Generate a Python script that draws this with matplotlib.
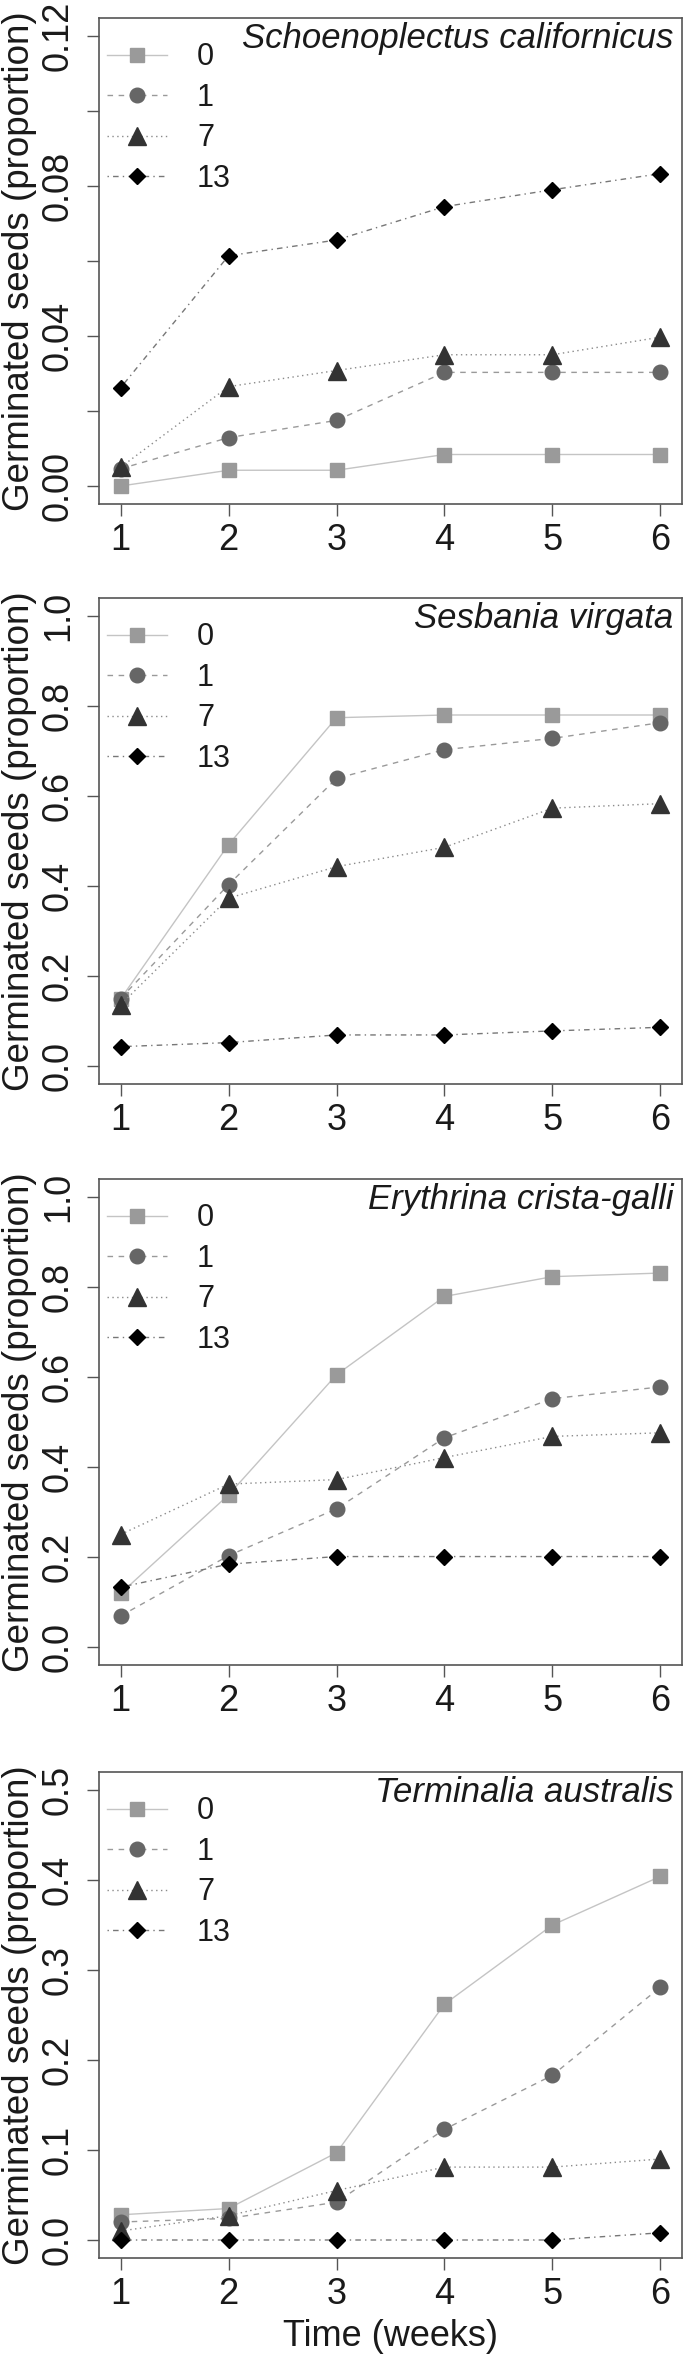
import matplotlib
matplotlib.use("Agg")
from matplotlib import pyplot as plt

plt.rcParams['font.family'] = ['Liberation Sans', 'DejaVu Sans']

weeks = [1, 2, 3, 4, 5, 6]
doses = ['0', '1', '7', '13']

species = ['Schoenoplectus californicus', 'Sesbania virgata',
           'Erythrina crista-galli', 'Terminalia australis']

sc_0 = [0.000, 0.0042, 0.0042, 0.0084, 0.0084, 0.0084]
sc_1 = [0.0046, 0.0129, 0.0175, 0.0303, 0.0303, 0.0303]
sc_7 = [0.0050, 0.0265, 0.0308, 0.0350, 0.0350, 0.0397]
sc_13 = [0.0262, 0.0614, 0.0656, 0.0745, 0.0790, 0.0833]

sv_0 = [0.149, 0.492, 0.774, 0.780, 0.780, 0.780]
sv_1 = [0.150, 0.403, 0.639, 0.703, 0.728, 0.763]
sv_7 = [0.136, 0.373, 0.443, 0.486, 0.573, 0.583]
sv_13 = [0.043, 0.052, 0.069, 0.069, 0.078, 0.086]

ec_0 = [0.119, 0.338, 0.605, 0.779, 0.823, 0.831]
ec_1 = [0.069, 0.203, 0.307, 0.465, 0.552, 0.578]
ec_7 = [0.250, 0.362, 0.372, 0.421, 0.468, 0.476]
ec_13 = [0.133, 0.184, 0.201, 0.201, 0.201, 0.201]

ta_0 = [0.028, 0.035, 0.097, 0.262, 0.350, 0.404]
ta_1 = [0.020, 0.024, 0.042, 0.123, 0.183, 0.281]
ta_7 = [0.010, 0.027, 0.055, 0.081, 0.081, 0.090]
ta_13 = [0.000, 0.000, 0.000, 0.000, 0.000, 0.008]

y_max = [0.12, 1.0, 1.0, 0.5]
y_ticks = [
    [0.00, 0.02, 0.04, 0.06, 0.08, 0.10, 0.12],
    [0.0, 0.2, 0.4, 0.6, 0.8, 1.0],
    [0.0, 0.2, 0.4, 0.6, 0.8, 1.0],
    [0.0, 0.1, 0.2, 0.3, 0.4, 0.5],
]
y_labels = [
    ['0.00', '', '0.04', '', '0.08', '', '0.12'],
    ['0.0', '0.2', '0.4', '0.6', '0.8', '1.0'],
    ['0.0', '0.2', '0.4', '0.6', '0.8', '1.0'],
    ['0.0', '0.1', '0.2', '0.3', '0.4', '0.5'],
]

panels = [[sc_0, sc_1, sc_7, sc_13], [sv_0, sv_1, sv_7, sv_13],
          [ec_0, ec_1, ec_7, ec_13], [ta_0, ta_1, ta_7, ta_13]]

# style of each dose: marker, marker colour, line colour, line style, marker size
styles = [
    ('s', '#9a9a9a', '#c4c4c4', '-', 10.5),
    ('o', '#666666', '#9a9a9a', (0, (4, 4)), 10.5),
    ('^', '#333333', '#8a8a8a', (0, (1, 2.5)), 13),
    ('D', '#000000', '#777777', (0, (1, 3, 4, 3)), 8.5),
]

W, H = 685, 2354
fig = plt.figure(figsize=(W / 100, H / 100), dpi=100)

tops = [18, 598, 1179, 1772]
left, width, height = 99, 583, 486
box_col = '#555555'
txt_col = '#1a1a1a'

for i in range(4):
    ax = fig.add_axes([left / W, 1 - (tops[i] + height) / H, width / W, height / H])
    for j in range(4):
        mk, mcol, lcol, ls, ms = styles[j]
        ax.plot(weeks, panels[i][j], color=lcol, linestyle=ls, linewidth=1.0,
                marker=mk, markersize=ms, markerfacecolor=mcol,
                markeredgecolor=mcol, label=doses[j])

    pad = 0.04 * y_max[i]
    ax.set_ylim(-pad, y_max[i] + pad)
    ax.set_xlim(0.8, 6.2)
    ax.set_xticks(weeks)
    ax.set_xticklabels([str(w) for w in weeks])
    ax.set_yticks(y_ticks[i])
    ax.set_yticklabels(y_labels[i], rotation=90, va='center', ha='right')

    ax.tick_params(axis='both', direction='out', length=8.5, width=1.0,
                   color=box_col, labelsize=26, labelcolor=txt_col)
    ax.tick_params(axis='x', pad=5)
    ax.tick_params(axis='y', pad=8)
    for s in ax.spines.values():
        s.set_color(box_col)
        s.set_linewidth(1.2)

    ax.set_ylabel('Germinated seeds (proportion)', fontsize=26.5, color=txt_col)
    ax.yaxis.set_label_coords(-0.106, 0.5)

    ax.text(0.985, 0.957, species[i], transform=ax.transAxes, ha='right',
            va='center', style='italic', fontsize=25, color=txt_col)

    ax.legend(loc='upper left', bbox_to_anchor=(0.014, 0.9496), frameon=False,
              fontsize=22, handlelength=1.96, handletextpad=0.98,
              labelspacing=0.34, borderpad=0, borderaxespad=0,
              labelcolor=txt_col)

    if i == 3:
        ax.set_xlabel('Time (weeks)', fontsize=26, color=txt_col, labelpad=5)

fig.savefig('out.png', dpi=100)
